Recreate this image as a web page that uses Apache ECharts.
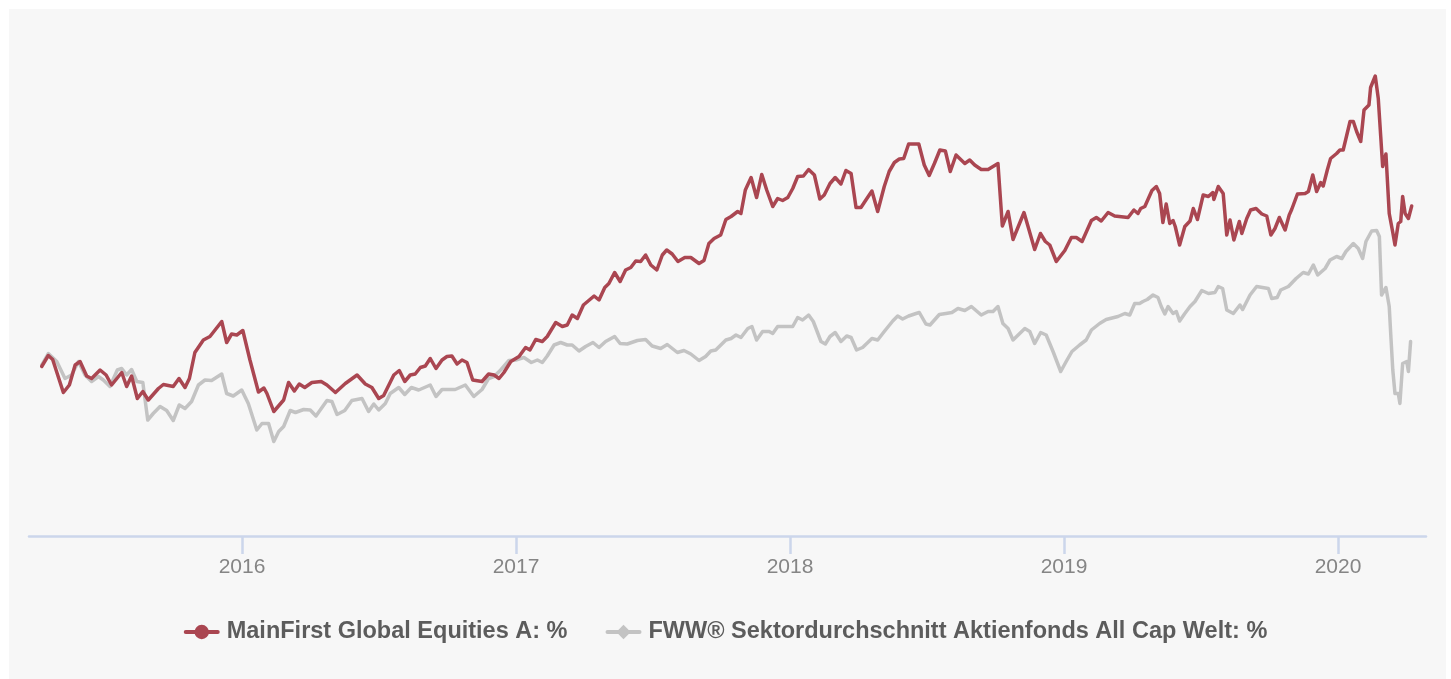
<!DOCTYPE html>
<html lang="de">
<head>
<meta charset="utf-8">
<title>MainFirst Global Equities A</title>
<script src="https://cdn.jsdelivr.net/npm/echarts@6/dist/echarts.min.js"></script>
<style>
   html, body { margin: 0; padding: 0; background: #fff; }
   #rahmen { position: absolute; left: 9px; top: 9px; width: 1437px; height: 670px; background: #f7f7f7; }
   #chart { position: absolute; left: 0; top: 0; width: 1451px; height: 679px; }
</style>
</head>
<body>
<div id="rahmen"></div>
<div id="chart"></div>
<script>
// Zeitpunkte als Dezimaljahr, Werte in % seit Start
var nameMF = "MainFirst Global Equities A: %";
var nameFWW = "FWW\u00ae Sektordurchschnitt Aktienfonds All Cap Welt: %";
var jahre = [2016, 2017, 2018, 2019, 2020];

var mfZeit = [
   2015.269, 2015.293, 2015.309, 2015.348, 2015.370, 2015.391, 2015.409, 2015.433, 2015.451, 2015.482,
   2015.504, 2015.524, 2015.561, 2015.579, 2015.597, 2015.618, 2015.638, 2015.658, 2015.695, 2015.713,
   2015.749, 2015.770, 2015.792, 2015.808, 2015.828, 2015.859, 2015.883, 2015.926, 2015.944, 2015.962,
   2015.981, 2016.003, 2016.029, 2016.060, 2016.080, 2016.091, 2016.116, 2016.152, 2016.170, 2016.191,
   2016.209, 2016.229, 2016.255, 2016.289, 2016.310, 2016.341, 2016.377, 2016.420, 2016.450, 2016.474,
   2016.499, 2016.517, 2016.554, 2016.574, 2016.594, 2016.614, 2016.632, 2016.651, 2016.669, 2016.687,
   2016.708, 2016.730, 2016.748, 2016.766, 2016.785, 2016.803, 2016.821, 2016.842, 2016.876, 2016.900,
   2016.920, 2016.938, 2016.956, 2016.981, 2017.011, 2017.035, 2017.051, 2017.072, 2017.096, 2017.114,
   2017.145, 2017.169, 2017.187, 2017.205, 2017.224, 2017.246, 2017.285, 2017.303, 2017.324, 2017.339,
   2017.360, 2017.380, 2017.400, 2017.419, 2017.437, 2017.455, 2017.473, 2017.492, 2017.514, 2017.534,
   2017.550, 2017.570, 2017.591, 2017.616, 2017.638, 2017.668, 2017.686, 2017.704, 2017.723, 2017.747,
   2017.766, 2017.785, 2017.809, 2017.821, 2017.837, 2017.858, 2017.878, 2017.897, 2017.915, 2017.937,
   2017.955, 2017.973, 2017.992, 2018.010, 2018.028, 2018.049, 2018.068, 2018.089, 2018.109, 2018.125,
   2018.146, 2018.165, 2018.186, 2018.204, 2018.223, 2018.241, 2018.259, 2018.277, 2018.299, 2018.320,
   2018.344, 2018.362, 2018.381, 2018.399, 2018.415, 2018.433, 2018.470, 2018.490, 2018.508, 2018.527,
   2018.547, 2018.567, 2018.585, 2018.606, 2018.638, 2018.656, 2018.674, 2018.698, 2018.723, 2018.759,
   2018.775, 2018.796, 2018.814, 2018.854, 2018.893, 2018.914, 2018.932, 2018.948, 2018.972, 2019.003,
   2019.027, 2019.045, 2019.066, 2019.100, 2019.118, 2019.136, 2019.161, 2019.185, 2019.234, 2019.255,
   2019.270, 2019.280, 2019.295, 2019.321, 2019.337, 2019.349, 2019.361, 2019.373, 2019.386, 2019.398,
   2019.406, 2019.422, 2019.441, 2019.460, 2019.472, 2019.487, 2019.508, 2019.527, 2019.543, 2019.547,
   2019.563, 2019.581, 2019.594, 2019.606, 2019.620, 2019.640, 2019.649, 2019.667, 2019.681, 2019.701,
   2019.722, 2019.740, 2019.755, 2019.770, 2019.786, 2019.807, 2019.822, 2019.831, 2019.852, 2019.880,
   2019.892, 2019.908, 2019.922, 2019.937, 2019.946, 2019.961, 2019.973, 2019.995, 2020.007, 2020.019,
   2020.044, 2020.056, 2020.068, 2020.083, 2020.095, 2020.113, 2020.119, 2020.136, 2020.147, 2020.156,
   2020.163, 2020.175, 2020.187, 2020.200, 2020.208, 2020.220, 2020.229, 2020.236, 2020.245, 2020.257,
   2020.269
];
var mfWert = [
   -0.1, 2.1, 1.3, -5.3, -3.8, 0.2, 0.9, -2.0, -2.5, -0.8,
   -1.8, -3.8, -1.3, -4.1, -2.0, -6.5, -5.1, -6.8, -4.5, -3.7,
   -4.1, -2.5, -4.3, -2.5, 2.7, 5.2, 5.9, 8.9, 4.7, 6.4,
   6.2, 7.1, 1.2, -5.2, -4.4, -5.5, -9.1, -6.8, -3.3, -5.0,
   -3.6, -4.3, -3.3, -3.1, -3.8, -5.3, -3.5, -1.8, -3.6, -4.3,
   -6.5, -5.9, -1.8, -0.9, -3.1, -1.8, -1.6, -0.3, 0.0, 1.5,
   -0.5, 1.2, 1.9, 2.0, 0.4, 1.2, 0.7, -2.8, -3.1, -1.6,
   -1.8, -2.5, -1.3, 0.9, 1.9, 3.7, 3.2, 5.3, 4.9, 5.9,
   8.7, 7.9, 8.2, 10.2, 9.5, 12.2, 14.0, 13.2, 15.7, 16.5,
   18.7, 16.9, 19.2, 19.7, 21.0, 20.9, 22.2, 20.2, 19.2, 22.2,
   23.2, 22.4, 20.9, 21.7, 21.7, 20.5, 21.1, 24.5, 25.5, 26.2,
   29.3, 29.9, 30.9, 30.5, 35.2, 37.7, 33.7, 38.3, 35.2, 31.9,
   33.5, 33.1, 33.7, 35.5, 37.9, 38.0, 39.3, 38.2, 33.4, 34.2,
   36.5, 37.7, 36.4, 39.1, 38.5, 31.7, 31.7, 33.2, 35.0, 30.9,
   35.9, 38.9, 40.7, 41.4, 41.5, 44.4, 44.4, 40.2, 38.1, 40.5,
   43.2, 43.0, 38.9, 42.2, 40.5, 41.2, 40.2, 39.3, 39.3, 40.5,
   28.0, 30.9, 25.3, 30.7, 23.3, 26.5, 24.9, 24.2, 20.9, 23.1,
   25.7, 25.7, 24.9, 29.1, 29.7, 29.0, 30.7, 30.0, 29.7, 31.2,
   30.5, 31.5, 31.9, 35.1, 35.9, 34.5, 28.7, 32.4, 28.5, 29.1,
   27.9, 24.2, 27.9, 29.0, 31.5, 29.3, 34.2, 33.9, 34.7, 33.3,
   35.9, 34.5, 26.2, 29.2, 25.2, 28.9, 26.5, 29.5, 31.2, 31.5,
   30.4, 30.0, 26.2, 27.5, 29.7, 27.2, 30.2, 31.3, 34.4, 34.5,
   34.9, 38.2, 34.9, 36.7, 36.0, 39.2, 41.5, 42.5, 43.2, 43.2,
   48.9, 48.9, 46.9, 44.9, 51.2, 52.2, 55.7, 58.0, 53.5, 45.9,
   39.9, 42.4, 30.5, 26.7, 24.2, 28.5, 28.9, 33.9, 30.5, 29.5,
   32.0
];

var fwwZeit = [
   2015.269, 2015.293, 2015.324, 2015.354, 2015.378, 2015.403, 2015.427, 2015.451, 2015.476, 2015.494,
   2015.518, 2015.545, 2015.561, 2015.579, 2015.597, 2015.616, 2015.638, 2015.656, 2015.676, 2015.701,
   2015.725, 2015.749, 2015.771, 2015.792, 2015.816, 2015.841, 2015.865, 2015.889, 2015.926, 2015.944,
   2015.968, 2015.999, 2016.023, 2016.054, 2016.073, 2016.097, 2016.116, 2016.134, 2016.152, 2016.176,
   2016.195, 2016.225, 2016.249, 2016.270, 2016.310, 2016.328, 2016.347, 2016.375, 2016.401, 2016.438,
   2016.462, 2016.481, 2016.499, 2016.523, 2016.541, 2016.572, 2016.594, 2016.618, 2016.645, 2016.687,
   2016.708, 2016.730, 2016.778, 2016.815, 2016.846, 2016.876, 2016.900, 2016.920, 2016.944, 2016.974,
   2016.999, 2017.029, 2017.056, 2017.078, 2017.096, 2017.114, 2017.139, 2017.163, 2017.187, 2017.205,
   2017.230, 2017.254, 2017.281, 2017.303, 2017.327, 2017.360, 2017.380, 2017.406, 2017.443, 2017.473,
   2017.497, 2017.528, 2017.552, 2017.589, 2017.613, 2017.638, 2017.668, 2017.692, 2017.711, 2017.729,
   2017.766, 2017.785, 2017.803, 2017.821, 2017.846, 2017.861, 2017.878, 2017.900, 2017.924, 2017.937,
   2017.955, 2017.985, 2018.010, 2018.028, 2018.046, 2018.068, 2018.085, 2018.113, 2018.129, 2018.146,
   2018.165, 2018.186, 2018.207, 2018.223, 2018.243, 2018.265, 2018.299, 2018.320, 2018.344, 2018.375,
   2018.393, 2018.411, 2018.433, 2018.460, 2018.472, 2018.496, 2018.511, 2018.545, 2018.569, 2018.591,
   2018.613, 2018.638, 2018.662, 2018.698, 2018.723, 2018.741, 2018.759, 2018.777, 2018.796, 2018.814,
   2018.857, 2018.875, 2018.893, 2018.915, 2018.935, 2018.960, 2018.988, 2019.008, 2019.029, 2019.057,
   2019.081, 2019.100, 2019.130, 2019.154, 2019.197, 2019.222, 2019.240, 2019.258, 2019.276, 2019.288,
   2019.304, 2019.325, 2019.343, 2019.355, 2019.368, 2019.380, 2019.398, 2019.410, 2019.422, 2019.441,
   2019.460, 2019.478, 2019.503, 2019.527, 2019.551, 2019.563, 2019.579, 2019.594, 2019.618, 2019.642,
   2019.652, 2019.679, 2019.703, 2019.746, 2019.758, 2019.778, 2019.791, 2019.819, 2019.847, 2019.873,
   2019.892, 2019.910, 2019.926, 2019.953, 2019.971, 2019.995, 2020.014, 2020.029, 2020.056, 2020.074,
   2020.090, 2020.102, 2020.123, 2020.141, 2020.151, 2020.159, 2020.175, 2020.187, 2020.193, 2020.200,
   2020.208, 2020.220, 2020.226, 2020.236, 2020.251, 2020.257, 2020.265
];
var fwwWert = [
   0.2, 2.5, 0.9, -2.5, -1.8, 0.9, -1.8, -3.1, -2.1, -2.8,
   -4.1, -0.8, -0.5, -1.8, -0.7, -3.1, -3.3, -10.8, -9.5, -8.1,
   -8.9, -10.9, -7.8, -8.5, -7.1, -3.8, -2.8, -2.9, -1.6, -5.5,
   -6.0, -4.8, -7.5, -12.8, -11.5, -11.5, -15.1, -13.1, -12.1, -8.9,
   -9.3, -8.7, -8.8, -10.0, -6.9, -7.1, -9.7, -8.9, -6.9, -6.5,
   -9.1, -7.6, -8.8, -7.5, -5.5, -4.3, -5.7, -4.3, -4.8, -3.8,
   -6.1, -4.7, -4.7, -3.8, -6.1, -4.7, -2.5, -2.1, -0.8, 1.1,
   1.2, 1.7, 0.7, 1.2, 0.7, 2.0, 4.2, 4.7, 4.2, 4.2,
   3.0, 3.9, 4.7, 3.7, 4.9, 5.9, 4.5, 4.4, 5.1, 5.3,
   4.0, 3.5, 4.3, 2.7, 3.1, 2.4, 1.1, 1.9, 3.0, 3.2,
   5.2, 5.5, 6.2, 5.7, 7.5, 7.9, 5.2, 6.9, 6.9, 6.5,
   7.9, 7.9, 7.9, 9.7, 9.2, 10.2, 8.9, 4.9, 4.4, 5.9,
   6.7, 4.9, 6.0, 5.7, 3.2, 3.7, 5.5, 5.2, 6.9, 9.0,
   10.0, 9.4, 10.0, 10.5, 10.7, 8.4, 8.2, 10.3, 10.5, 10.7,
   11.5, 11.1, 11.9, 10.2, 10.9, 10.9, 11.9, 8.5, 7.5, 5.2,
   7.5, 6.9, 4.5, 6.7, 6.2, 2.9, -1.1, 0.9, 2.9, 4.2,
   5.2, 7.2, 8.5, 9.3, 9.9, 10.5, 10.2, 12.5, 12.5, 12.9,
   13.3, 14.2, 13.7, 11.9, 10.4, 11.9, 10.5, 10.9, 9.0, 10.5,
   11.9, 12.9, 15.1, 14.5, 14.7, 15.9, 15.5, 11.2, 10.5, 12.2,
   11.3, 14.2, 15.9, 15.5, 13.5, 13.7, 15.2, 15.9, 17.5, 18.7,
   18.4, 20.2, 18.2, 19.5, 21.2, 21.9, 21.5, 22.9, 24.5, 23.5,
   21.5, 24.9, 27.0, 27.1, 25.9, 14.2, 15.7, 11.9, 5.9, -0.8,
   -5.5, -5.5, -7.5, 0.5, 0.9, -1.1, 4.9
];

var farbeMF = "#aa4651";
var farbeFWW = "#c3c3c3";

function paare(zeit, wert) {
   var d = [];
   for (var i = 0; i < zeit.length; i++) {
      d.push([zeit[i], wert[i]]);
   }
   return d;
}

var chart = echarts.init(document.getElementById("chart"));
var option = {
   animation: false,
   backgroundColor: "transparent",
   textStyle: {
      fontFamily: "'Liberation Sans', Arial, Helvetica, sans-serif"
   },
   grid: {
      left: 29,
      right: 25,
      top: 36,
      bottom: 143
   },
   xAxis: {
      type: "value",
      min: 2015.2226,
      max: 2020.3212,
      splitLine: { show: false },
      axisLine: {
         onZero: false,
         lineStyle: { color: "#ccd6eb", width: 2.5 }
      },
      axisTick: {
         length: 18,
         customValues: jahre,
         lineStyle: { color: "#ccd6eb", width: 2.5 }
      },
      axisLabel: {
         customValues: jahre,
         margin: 21,
         color: "#858585",
         fontSize: 21,
         formatter: function (v) {
            return String(Math.round(v));
         }
      }
   },
   yAxis: {
      type: "value",
      min: -34,
      max: 66,
      show: false
   },
   legend: {
      top: 615,
      left: "center",
      itemWidth: 32,
      itemHeight: 18,
      itemGap: 38,
      lineStyle: { width: 4 },
      textStyle: {
         fontSize: 23.5,
         fontWeight: "bold",
         color: "#5c5c5c",
         padding: [0, 0, 0, 4]
      },
      data: [nameMF, nameFWW]
   },
   series: [{
      name: nameMF,
      type: "line",
      z: 3,
      symbol: "circle",
      showSymbol: false,
      silent: true,
      itemStyle: { color: farbeMF },
      lineStyle: { color: farbeMF, width: 3.5, join: "round", cap: "round" },
      data: paare(mfZeit, mfWert)
   }, {
      name: nameFWW,
      type: "line",
      z: 2,
      symbol: "diamond",
      showSymbol: false,
      silent: true,
      itemStyle: { color: farbeFWW },
      lineStyle: { color: farbeFWW, width: 3.5, join: "round", cap: "round" },
      data: paare(fwwZeit, fwwWert)
   }]
};
chart.setOption(option);
</script>
</body>
</html>
